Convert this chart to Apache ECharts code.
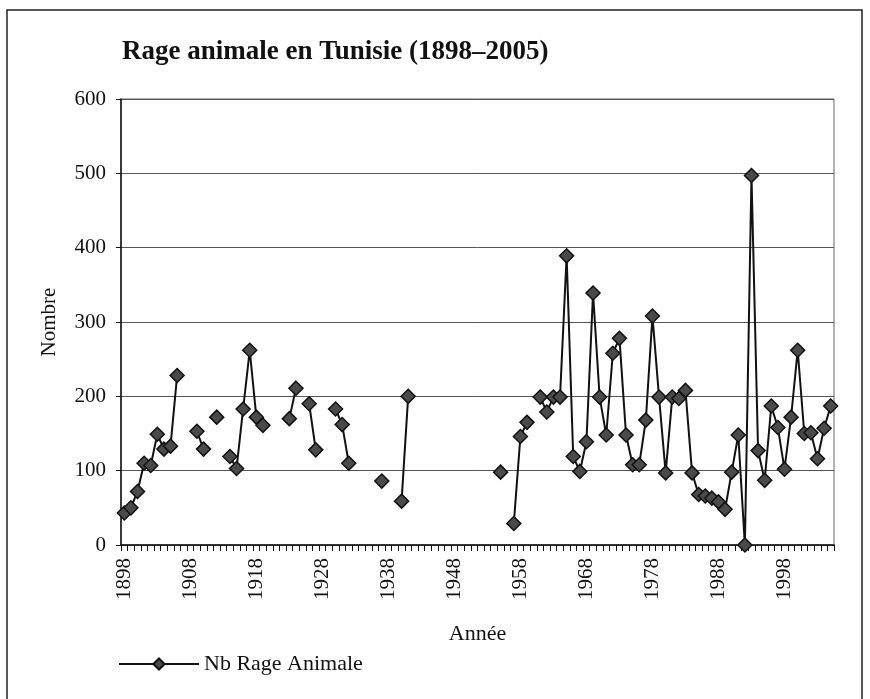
<!DOCTYPE html>
<html>
<head>
<meta charset="utf-8">
<script src="https://cdn.jsdelivr.net/npm/echarts@6/dist/echarts.min.js"></script>
<style>
html,body{margin:0;padding:0;background:#fff;}
#chart{width:870px;height:699px;}
</style>
</head>
<body>
<div id="chart"></div>
<script>
var years = [
 '1898','1899','1900','1901','1902','1903','1904','1905','1906','1907',
 '1908','1909','1910','1911','1912','1913','1914','1915','1916','1917',
 '1918','1919','1920','1921','1922','1923','1924','1925','1926','1927',
 '1928','1929','1930','1931','1932','1933','1934','1935','1936','1937',
 '1938','1939','1940','1941','1942','1943','1944','1945','1946','1947',
 '1948','1949','1950','1951','1952','1953','1954','1955','1956','1957',
 '1958','1959','1960','1961','1962','1963','1964','1965','1966','1967',
 '1968','1969','1970','1971','1972','1973','1974','1975','1976','1977',
 '1978','1979','1980','1981','1982','1983','1984','1985','1986','1987',
 '1988','1989','1990','1991','1992','1993','1994','1995','1996','1997',
 '1998','1999','2000','2001','2002','2003','2004','2005'
];
var rageValues = [
 43, 50, 72, 110, 107, 149, 129, 133, 228, null,
 null, 153, 129, null, 172, null, 119, 103, 183, 262,
 172, 161, null, null, null, 170, 211, null, 190, 128,
 null, null, 183, 162, 110, null, null, null, null, 86,
 null, null, 59, 200, null, null, null, null, null, null,
 null, null, null, null, null, null, null, 98, null, 29,
 146, 165, null, 199, 179, 199, 199, 389, 119, 99,
 139, 339, 199, 148, 258, 278, 148, 108, 108, 168,
 308, 199, 97, 199, 197, 208, 97, 68, 66, 63,
 58, 48, 98, 148, 0, 497, 127, 87, 187, 158,
 102, 172, 262, 150, 151, 116, 157, 187
];
var yTicks = { min: 0, max: 600, step: 100 };
var seriesName = 'Nb Rage Animale';
var titleText = 'Rage animale en Tunisie (1898\u20132005)';

var serif = '"Liberation Serif", "DejaVu Serif", serif';
var chart = echarts.init(document.getElementById('chart'));
chart.setOption({
  backgroundColor: '#ffffff',
  animation: false,
  title: {
    text: titleText,
    left: 117, top: 34,
    textStyle: { fontFamily: serif, fontSize: 27, fontWeight: 'bold', color: '#111' }
  },
  legend: {
    left: 113, top: 648,
    itemWidth: 80, itemHeight: 14, itemGap: 8,
    data: [seriesName],
    textStyle: { fontFamily: serif, fontSize: 22, color: '#111' }
  },
  graphic: [{
    type: 'rect', silent: true,
    shape: { x: 7, y: 10, width: 855, height: 720 },
    style: { fill: 'none', stroke: '#222', lineWidth: 1.5 }
  }],
  grid: {
    left: 121, right: 36, top: 99, bottom: 154,
    show: true, borderColor: '#666', borderWidth: 1
  },
  xAxis: {
    type: 'category',
    data: years,
    boundaryGap: true,
    name: 'Année', nameLocation: 'middle', nameGap: 78,
    nameTextStyle: { fontFamily: serif, fontSize: 22, color: '#111' },
    axisLine: { show: true, lineStyle: { color: '#111', width: 1.5 } },
    axisTick: { show: true, interval: 0, length: 6, alignWithLabel: false, lineStyle: { color: '#111' } },
    axisLabel: { interval: 9, rotate: 90, margin: 13, fontFamily: serif, fontSize: 21, color: '#111' },
    splitLine: { show: false }
  },
  yAxis: {
    type: 'value',
    min: yTicks.min, max: yTicks.max, interval: yTicks.step,
    name: 'Nombre', nameLocation: 'middle', nameGap: 61, nameRotate: 90,
    nameTextStyle: { fontFamily: serif, fontSize: 21, color: '#111' },
    axisLine: { show: true, lineStyle: { color: '#111', width: 1.5 } },
    axisTick: { show: true, length: 5, lineStyle: { color: '#111' } },
    axisLabel: { margin: 15, fontFamily: serif, fontSize: 21, color: '#111' },
    splitLine: { show: true, lineStyle: { color: '#555', width: 1 } }
  },
  series: [{
    name: seriesName,
    type: 'line',
    data: rageValues,
    connectNulls: false,
    showSymbol: true,
    showAllSymbol: true,
    symbol: 'diamond',
    symbolSize: 14,
    lineStyle: { color: '#111', width: 2 },
    itemStyle: { color: '#4a4a4a', borderColor: '#111', borderWidth: 1.5 },
    z: 3
  }]
});
</script>
</body>
</html>
